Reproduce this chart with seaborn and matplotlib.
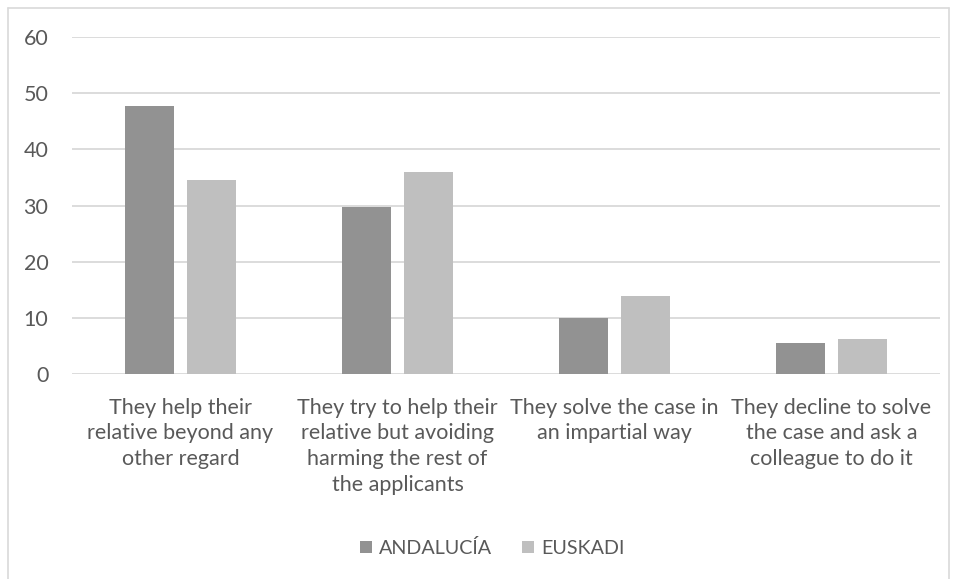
import matplotlib
matplotlib.use("Agg")
import matplotlib.pyplot as plt
import seaborn as sns
import pandas as pd
from matplotlib.lines import Line2D
from matplotlib.patches import Patch

categories = [
    "They help their\nrelative beyond any\nother regard",
    "They try to help their\nrelative but avoiding\nharming the rest of\nthe applicants",
    "They solve the case in\nan impartial way",
    "They decline to solve\nthe case and ask a\ncolleague to do it",
]
series_names = ["ANDALUCÍA", "EUSKADI"]
andalucia = [47.7, 29.7, 10.0, 5.6]
euskadi = [34.6, 36.0, 13.8, 6.2]
colors = ["#929292", "#bfbfbf"]
yticks = [0, 10, 20, 30, 40, 50, 60]

rows = []
for c, a, e in zip(categories, andalucia, euskadi):
    rows.append({"cat": c, "region": series_names[0], "value": a})
    rows.append({"cat": c, "region": series_names[1], "value": e})
df = pd.DataFrame(rows)

sns.set_theme(style="white")
plt.rcParams["font.family"] = ["Lato", "DejaVu Sans"]
text_color = "#595959"
grid_color = "#d9d9d9"

W, H = 957, 579
fig = plt.figure(figsize=(W / 100, H / 100), dpi=100)
ax = fig.add_axes([72 / W, 1 - 374 / H, (940 - 72) / W, (374 - 37) / H])

sns.barplot(data=df, x="cat", y="value", hue="region", order=categories,
            hue_order=series_names, palette=colors, width=0.567, gap=0.2,
            saturation=1, errorbar=None, ax=ax, legend=False, linewidth=0, zorder=3)

ax.set_ylim(0, 60)
ax.set_xlim(-0.5, 3.5)
ax.set_yticks(yticks)
ax.set_yticklabels([str(t) for t in yticks])
for y in yticks:
    ax.axhline(y, color=grid_color, lw=1.3, zorder=1)
for s in ax.spines.values():
    s.set_visible(False)
ax.tick_params(axis="both", length=0, colors=text_color, labelsize=15.5)
ax.tick_params(axis="y", pad=17)
ax.tick_params(axis="x", pad=17)
for lab in ax.get_xticklabels():
    lab.set_linespacing(1.36)
    lab.set_verticalalignment("top")
ax.set_xlabel("")
ax.set_ylabel("")

handles = [Patch(facecolor=colors[0], edgecolor="none"), Patch(facecolor=colors[1], edgecolor="none")]
leg = fig.legend(handles, series_names, loc="center", bbox_to_anchor=(492 / W, 1 - 548 / H),
                 ncol=2, frameon=False, fontsize=14.2, handlelength=0.62, handleheight=0.62,
                 handletextpad=0.35, columnspacing=1.5)
for t in leg.get_texts():
    t.set_color(text_color)

# outer chart border
border = "#d9d9d9"
fig.add_artist(Line2D([8 / W, 8 / W], [0, 1 - 8 / H], color=border, lw=1.2, transform=fig.transFigure))
fig.add_artist(Line2D([8 / W, 949 / W], [1 - 8 / H, 1 - 8 / H], color=border, lw=1.2, transform=fig.transFigure))
fig.add_artist(Line2D([949 / W, 949 / W], [0, 1 - 8 / H], color=border, lw=1.2, transform=fig.transFigure))

fig.savefig("out.png", dpi=100, facecolor="white")
